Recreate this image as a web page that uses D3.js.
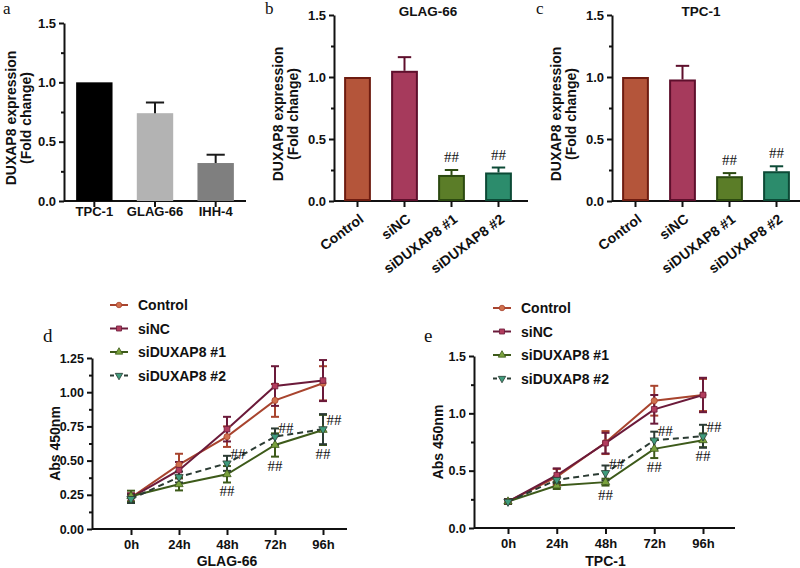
<!DOCTYPE html>
<html><head><meta charset="utf-8">
<script src="https://cdn.jsdelivr.net/npm/d3@7"></script>
<style>
body{margin:0;background:#fff}
svg{display:block}
text{font-family:"Liberation Sans",Arial,sans-serif;font-weight:bold;fill:#111}
.serif{font-family:"Liberation Serif","Times New Roman",serif;font-weight:normal}
</style>
</head><body>
<svg id="chart" width="800" height="568"></svg>
<script>
// ---------- data ----------
const cellLines = ["TPC-1", "GLAG-66", "IHH-4"];
const cellExpr = [1.0, 0.74, 0.32];
const cellErr = [0, 0.09, 0.07];

const groups = ["Control", "siNC", "siDUXAP8 #1", "siDUXAP8 #2"];
const glagExpr = [1.0, 1.05, 0.21, 0.23];
const glagErr = [0, 0.11, 0.04, 0.04];
const tpcExpr = [1.0, 0.98, 0.20, 0.24];
const tpcErr = [0, 0.11, 0.025, 0.04];
const barSig = [false, false, true, true];

const timePoints = ["0h", "24h", "48h", "72h", "96h"];
const glagControl = [0.23, 0.47, 0.675, 0.94, 1.065];
const glagControlErr = [0.03, 0.08, 0.075, 0.12, 0.125];
const glagSiNC = [0.23, 0.43, 0.73, 1.045, 1.085];
const glagSiNCErr = [0.03, 0.06, 0.09, 0.145, 0.15];
const glagSi1 = [0.24, 0.327, 0.40, 0.614, 0.724];
const glagSi1Err = [0.04, 0.045, 0.06, 0.085, 0.11];
const glagSi2 = [0.22, 0.38, 0.48, 0.675, 0.73];
const glagSi2Err = [0.03, 0.04, 0.055, 0.06, 0.11];

const tpcControl = [0.23, 0.445, 0.745, 1.11, 1.16];
const tpcControlErr = [0.02, 0.07, 0.10, 0.13, 0.14];
const tpcSiNC = [0.23, 0.46, 0.74, 1.035, 1.16];
const tpcSiNCErr = [0.02, 0.06, 0.09, 0.125, 0.15];
const tpcSi1 = [0.23, 0.37, 0.40, 0.69, 0.765];
const tpcSi1Err = [0.02, 0.03, 0.03, 0.08, 0.06];
const tpcSi2 = [0.23, 0.42, 0.48, 0.765, 0.80];
const tpcSi2Err = [0.02, 0.03, 0.065, 0.075, 0.10];
const lineSig = [false, false, true, true, true];

// ---------- styles ----------
const barFill = ["#b4553a", "#a63a5c", "#5b7d28", "#2c8c6c"];
const barStroke = ["#6e1c10", "#5e0f2c", "#2c4a10", "#0c4a36"];
const grayFill = ["#000000", "#b3b3b3", "#7f7f7f"];
const lineColor = ["#a8442e", "#6b1a3a", "#3d5a1a", "#2b3b33"];
const markFill = ["#d0714e", "#b23d5e", "#7aa23e", "#3f9c7c"];
const markType = [d3.symbolCircle, d3.symbolSquare, d3.symbolTriangle, "down"];

const svg = d3.select("#chart");

function yAxis(g, y, x, major, minor, fmt) {
  const ax = g.append("g").attr("transform", `translate(${x},0)`);
  ax.call(d3.axisLeft(y).tickValues(major).tickFormat(d3.format(fmt)).tickSize(5).tickSizeOuter(0).tickPadding(3));
  ax.select(".domain").attr("stroke", "#111").attr("stroke-width", 2);
  ax.selectAll(".tick line").attr("stroke", "#111").attr("stroke-width", 2);
  ax.selectAll(".tick text").style("font-size", "13px").attr("fill", "#111");
  const mi = g.append("g").attr("transform", `translate(${x},0)`);
  mi.call(d3.axisLeft(y).tickValues(minor).tickFormat("").tickSize(3).tickSizeOuter(0));
  mi.select(".domain").remove();
  mi.selectAll(".tick line").attr("stroke", "#111").attr("stroke-width", 2);
  return ax;
}

function barPanel(o) {
  const g = svg.append("g");
  const y = d3.scaleLinear().domain([0, 1.5]).range([201, o.yTop]);
  const x = d3.scaleBand().domain(o.cats).range([o.x0, o.x1]).paddingInner(o.pad).paddingOuter(o.pad / 2);
  const xa = g.append("g").attr("transform", `translate(0,201)`);
  xa.call(d3.axisBottom(x).tickSize(6).tickSizeOuter(0).tickFormat(""));
  xa.select(".domain").attr("stroke", "#111").attr("stroke-width", 2).attr("d", `M${o.x0},0H${o.xEnd}`);
  xa.selectAll(".tick line").attr("stroke", "#111").attr("stroke-width", 2);
  yAxis(g, y, o.x0, [0, 0.5, 1.0, 1.5], [0.25, 0.75, 1.25], ".1f");
  const bw = x.bandwidth();
  o.cats.forEach((c, i) => {
    const v = o.vals[i], e = o.errs[i];
    const sw = o.stroke ? 2 : 0;
    g.append("rect")
      .attr("x", x(c) + sw / 2).attr("y", y(v) + sw / 2)
      .attr("width", bw - sw).attr("height", y(0) - y(v) - sw)
      .attr("fill", o.fill[i]).attr("stroke", o.stroke ? o.stroke[i] : "none").attr("stroke-width", sw);
    const ec = o.stroke ? o.stroke[i] : "#1a1a1a";
    const cx = x(c) + bw / 2;
    if (e > 0) {
      g.append("line").attr("x1", cx).attr("x2", cx).attr("y1", y(v)).attr("y2", y(v + e)).attr("stroke", ec).attr("stroke-width", 2);
      g.append("line").attr("x1", cx - bw / 4).attr("x2", cx + bw / 4).attr("y1", y(v + e)).attr("y2", y(v + e)).attr("stroke", ec).attr("stroke-width", 2);
    }
    if (o.sig && o.sig[i]) {
      g.append("text").attr("class", "serif").attr("x", cx).attr("y", y(v + e) - 8)
        .attr("text-anchor", "middle").style("font-size", "15px").attr("fill", "#222").text("##");
    }
    if (o.rotate) {
      g.append("text").attr("transform", `translate(${cx + 7},221) rotate(-37)`)
        .attr("text-anchor", "end").style("font-size", "14px").text(c);
    } else {
      g.append("text").attr("x", cx).attr("y", 216).attr("text-anchor", "middle").style("font-size", "13px").text(c);
    }
  });
  const ty = (y(0) + y(1.5)) / 2 + 6;
  g.append("text").attr("transform", `translate(${o.titleX},${ty}) rotate(-90)`).attr("text-anchor", "middle").style("font-size", "14px").text("DUXAP8 expression");
  g.append("text").attr("transform", `translate(${o.titleX + 15},${ty}) rotate(-90)`).attr("text-anchor", "middle").style("font-size", "14px").text("(Fold change)");
  if (o.title) g.append("text").attr("x", o.titleCx).attr("y", 16).attr("text-anchor", "middle").style("font-size", "13.5px").text(o.title);
  g.append("text").attr("class", "serif").attr("x", o.letterX).attr("y", 14).style("font-size", "17px").text(o.letter);
}

barPanel({cats: cellLines, vals: cellExpr, errs: cellErr, fill: grayFill, stroke: null, x0: 64, x1: 246, xEnd: 246, pad: 0.4, yTop: 23,
  titleX: 16, letter: "a", letterX: 3});
barPanel({cats: groups, vals: glagExpr, errs: glagErr, fill: barFill, stroke: barStroke, x0: 334, x1: 522, xEnd: 528, pad: 0.43, yTop: 15,
  rotate: true, sig: barSig, title: "GLAG-66", titleCx: 428, titleX: 283, letter: "b", letterX: 265});
barPanel({cats: groups, vals: tpcExpr, errs: tpcErr, fill: barFill, stroke: barStroke, x0: 612, x1: 800, xEnd: 800, pad: 0.43, yTop: 15,
  rotate: true, sig: barSig, title: "TPC-1", titleCx: 701, titleX: 561, letter: "c", letterX: 536});

function marker(g, type, x, y, fill, stroke, scale) {
  let p;
  const f = scale || 1;
  if (type === "down") {
    p = g.append("path").attr("d", d3.symbol(d3.symbolTriangle, 30 * f)()).attr("transform", `translate(${x},${y}) rotate(180)`);
  } else {
    const size = (type === d3.symbolSquare ? 32 : 30) * f;
    p = g.append("path").attr("d", d3.symbol(type, size)()).attr("transform", `translate(${x},${y})`);
  }
  p.attr("fill", fill).attr("stroke", stroke).attr("stroke-width", 0.8);
}

function linePanel(o) {
  const g = svg.append("g");
  const x = d3.scalePoint().domain(timePoints).range([o.xa, o.xb]);
  const y = d3.scaleLinear().domain([0, o.yMax]).range([o.y0, o.y1]);
  const xa = g.append("g").attr("transform", `translate(0,${o.y0})`);
  xa.call(d3.axisBottom(x).tickSize(6).tickSizeOuter(0).tickPadding(5));
  xa.select(".domain").attr("stroke", "#111").attr("stroke-width", 2).attr("d", `M${o.ax},0H${o.axEnd}`);
  xa.selectAll(".tick line").attr("stroke", "#111").attr("stroke-width", 2);
  xa.selectAll(".tick text").style("font-size", "13px").attr("fill", "#111");
  const ya = yAxis(g, y, o.ax, o.major, o.minor, o.fmt);
  ya.selectAll(".tick text").style("font-size", "12.5px");
  o.series.forEach((s, k) => {
    const line = d3.line().x((d, i) => x(timePoints[i])).y(d => y(d));
    g.append("path").attr("d", line(s.v)).attr("fill", "none").attr("stroke", lineColor[k]).attr("stroke-width", 2)
      .attr("stroke-dasharray", k === 3 ? "6,4" : null);
  });
  o.series.forEach((s, k) => {
    s.v.forEach((v, i) => {
      const cx = x(timePoints[i]), e = s.e[i];
      g.append("line").attr("x1", cx).attr("x2", cx).attr("y1", y(v - e)).attr("y2", y(v + e)).attr("stroke", lineColor[k]).attr("stroke-width", 2);
      [v - e, v + e].forEach(t => g.append("line").attr("x1", cx - 4).attr("x2", cx + 4).attr("y1", y(t)).attr("y2", y(t)).attr("stroke", lineColor[k]).attr("stroke-width", 2));
    });
  });
  o.series.forEach((s, k) => {
    s.v.forEach((v, i) => marker(g, markType[k], x(timePoints[i]), y(v), markFill[k], lineColor[k]));
  });
  const s1 = o.series[2], s2 = o.series[3];
  timePoints.forEach((t, i) => {
    if (!lineSig[i]) return;
    g.append("text").attr("class", "serif").attr("x", x(t) + 11).attr("y", y(s2.v[i]) - 4).attr("text-anchor", "middle").style("font-size", "15px").attr("fill", "#333").text("##");
    g.append("text").attr("class", "serif").attr("x", x(t)).attr("y", y(s1.v[i] - s1.e[i]) + 14).attr("text-anchor", "middle").style("font-size", "15px").attr("fill", "#333").text("##");
  });
  g.append("text").attr("transform", `translate(${o.ytX},${(o.y0 + o.y1) / 2}) rotate(-90)`).attr("text-anchor", "middle").style("font-size", "14px").text("Abs 450nm");
  g.append("text").attr("x", x(timePoints[2])).attr("y", 566).attr("text-anchor", "middle").style("font-size", "14px").text(o.xTitle);
  g.append("text").attr("class", "serif").attr("x", o.letterX).attr("y", 342).style("font-size", "19px").text(o.letter);
  groups.forEach((name, k) => {
    const ly = o.legY + k * 23.5;
    g.append("line").attr("x1", o.legX).attr("x2", o.legX + 18).attr("y1", ly).attr("y2", ly).attr("stroke", lineColor[k]).attr("stroke-width", 2)
      .attr("stroke-dasharray", k === 3 ? "4,3" : null);
    marker(g, markType[k], o.legX + 9, ly, markFill[k], lineColor[k], 0.8);
    g.append("text").attr("x", o.legX + 28).attr("y", ly + 5).style("font-size", "14px").text(name);
  });
}

linePanel({xa: 131, xb: 323, ax: 92, axEnd: 347, y0: 529, y1: 358, yMax: 1.25,
  major: [0, 0.25, 0.5, 0.75, 1.0, 1.25], minor: [0.125, 0.375, 0.625, 0.875, 1.125], fmt: ".2f",
  series: [{v: glagControl, e: glagControlErr}, {v: glagSiNC, e: glagSiNCErr}, {v: glagSi1, e: glagSi1Err}, {v: glagSi2, e: glagSi2Err}],
  ytX: 60, xTitle: "GLAG-66", letter: "d", letterX: 43, legX: 110, legY: 305});
linePanel({xa: 508, xb: 703, ax: 474, axEnd: 735, y0: 528, y1: 356, yMax: 1.5,
  major: [0, 0.5, 1.0, 1.5], minor: [0.25, 0.75, 1.25], fmt: ".1f",
  series: [{v: tpcControl, e: tpcControlErr}, {v: tpcSiNC, e: tpcSiNCErr}, {v: tpcSi1, e: tpcSi1Err}, {v: tpcSi2, e: tpcSi2Err}],
  ytX: 443, xTitle: "TPC-1", letter: "e", letterX: 424, legX: 493, legY: 308});
</script>
</body></html>
